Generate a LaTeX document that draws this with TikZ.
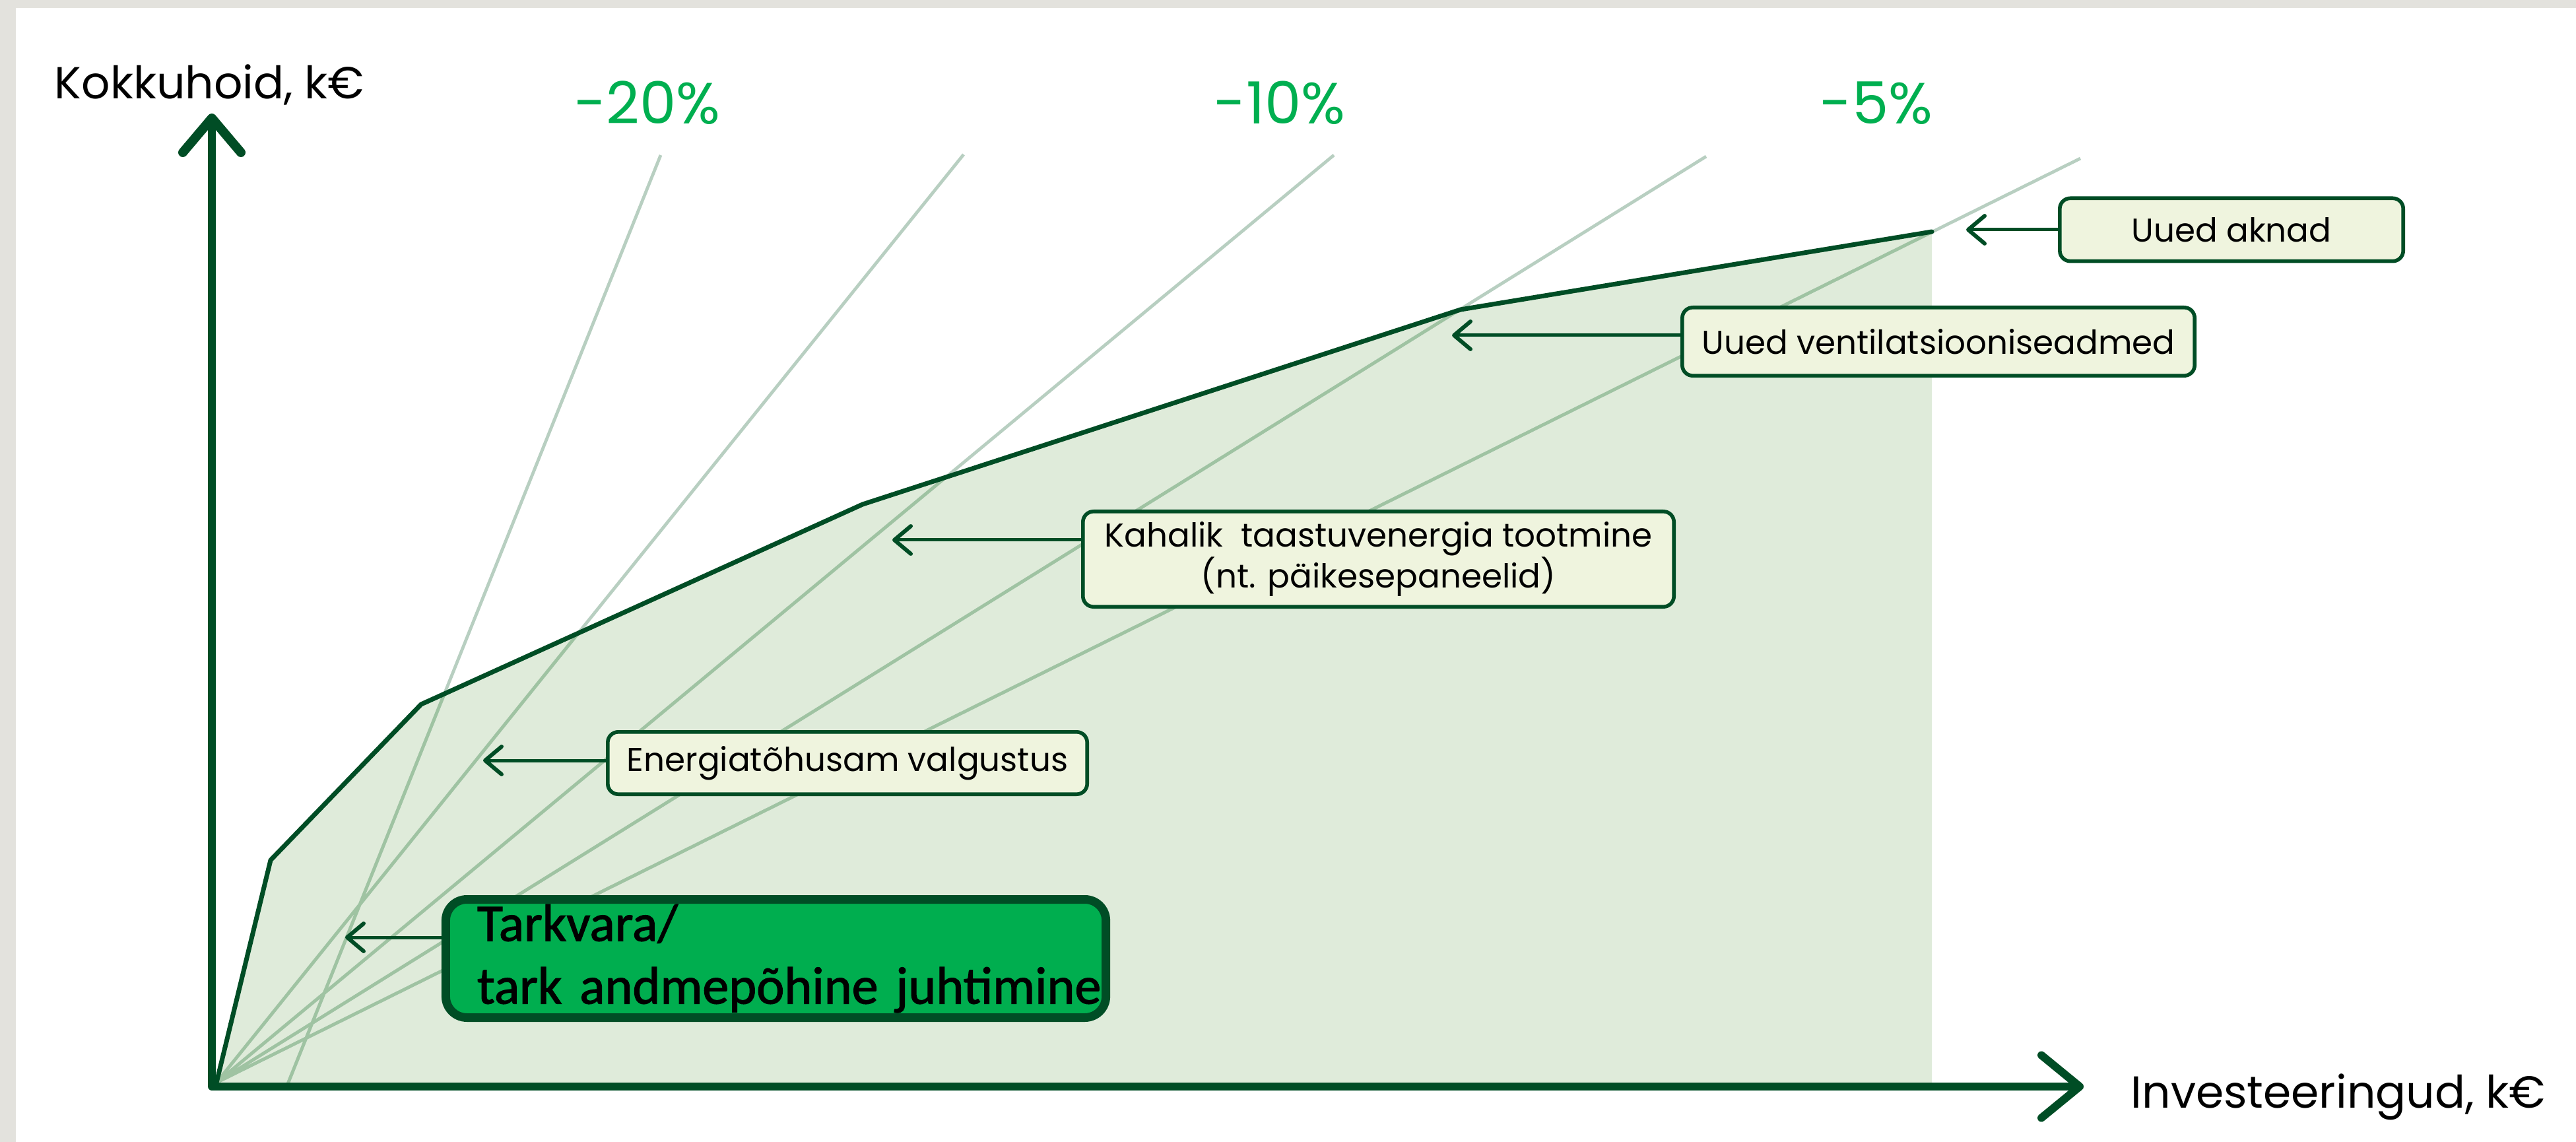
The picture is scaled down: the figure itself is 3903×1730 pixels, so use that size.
\documentclass[tikz,border=0pt]{standalone}
\usepackage{fontspec}
\setmainfont{Poppins}
\newfontfamily\carlito[FakeBold=1.5]{Carlito}
\usetikzlibrary{arrows.meta}
\definecolor{dg}{HTML}{004D25}
\definecolor{fillg}{HTML}{DFEBDA}
\definecolor{rayout}{HTML}{B8CFC1}
\definecolor{rayin}{HTML}{9FC3A2}
\definecolor{boxf}{HTML}{EFF4DE}
\definecolor{brightg}{HTML}{00AE4F}
\definecolor{pctg}{HTML}{00AF50}
\definecolor{paper}{HTML}{E3E2DD}
\begin{document}
\begin{tikzpicture}[x=0.25pt,y=-0.25pt,
  lbox/.style={draw=dg, line width=1.4pt, fill=boxf, rounded corners=4pt, inner sep=0pt,
    font=\fontsize{12.5}{15.5}\selectfont, align=center},
  callout/.style={draw=dg, line width=1.25pt, line cap=round,
    -{Straight Barb[length=6.25pt,width=10.5pt,line width=1.5pt,round]}},
  ray/.style={line width=1.2pt},
  pct/.style={text=pctg, font=\fontsize{22}{26}\selectfont, anchor=base},
  axlabel/.style={font=\fontsize{17}{20}\selectfont, anchor=base west, inner sep=0pt},
]
% background
\fill[paper] (0,0) rectangle (3903,1730);
\fill[white] (24,12) rectangle (3903,1730);
\useasboundingbox (0,0) rectangle (3903,1730);

% coordinates
\coordinate (O) at (328,1640);
\coordinate (O2) at (436,1642);
\coordinate (e1) at (1001,235);
\coordinate (e2) at (1460,234);
\coordinate (e3) at (2021,235);
\coordinate (e4) at (2585,237);
\coordinate (e5) at (3152,240);
\coordinate (v1) at (410,1303);
\coordinate (v2) at (638,1067);
\coordinate (v3) at (1307,764);
\coordinate (v4) at (2213,469);
\coordinate (v5) at (2927,351);
\coordinate (v6) at (2927,1640);

% fill area
\fill[fillg] (O) -- (v1) -- (v2) -- (v3) -- (v4) -- (v5) -- (v6) -- cycle;
% rays
\draw[ray, rayout] (O2) -- (e1) (O) -- (e2) (O) -- (e3) (O) -- (e4) (O) -- (e5);
\begin{scope}
  \clip (O) -- (v1) -- (v2) -- (v3) -- (v4) -- (v5) -- (v6) -- cycle;
  \draw[ray, rayin] (O2) -- (e1) (O) -- (e2) (O) -- (e3) (O) -- (e4) (O) -- (e5);
\end{scope}
% curve
\draw[dg, line width=1.75pt, line join=round, line cap=round]
  (O) -- (v1) -- (v2) -- (v3) -- (v4) -- (v5);

% axes
\coordinate (ytop) at (321,172);
\coordinate (corner) at (321,1646);
\coordinate (xend) at (3157,1646);
\draw[dg, line width=3pt, line join=round,
  {Straight Barb[length=13pt,width=22pt,line width=3.5pt,round]}-{Straight Barb[length=14.5pt,width=23.75pt,line width=3pt,round]}]
  (ytop) -- (corner) -- (xend);

% percent labels
\node[pct] (p20) at (981,188) {-20\%};
\node[pct] (p10) at (1939,188) {-10\%};
\node[pct] (p5) at (2843,188) {-5\%};

% axis labels
\node[axlabel] (ylab) at (82,150) {Kokkuhoid, k€};
\node[axlabel] (xlab) at (3228,1678) {Investeeringud, k€};

% boxes
\node[lbox, minimum width=130.1pt, minimum height=23.85pt] (aknad) at (3381,348) {Uued aknad};
\node[lbox, minimum width=194.1pt, minimum height=25.85pt] (vent) at (2937,517.5) {Uued ventilatsiooniseadmed};
\node[lbox, minimum width=223.85pt, minimum height=36.1pt] (kahalik) at (2088.5,847) {Kahalik\ \ taastuvenergia tootmine\\(nt. päikesepaneelid)};
\node[lbox, minimum width=181.6pt, minimum height=23.6pt] (energia) at (1284,1156) {Energiatõhusam valgustus};
\node[draw=dg, line width=3.25pt, fill=brightg, rounded corners=8pt, inner xsep=11.9pt, inner ysep=0pt,
  text width=226.25pt, align=left, minimum height=44.75pt,
  font=\carlito\fontsize{20}{23.75}\selectfont] (tarkvara) at (1175.5,1452)
  {Tarkvara/\\\mbox{tark andmepõhine juhtimine}};

% callout arrows
\coordinate (tA) at (2979,348);
\coordinate (tV) at (2200,508);
\coordinate (tK) at (1352,818);
\coordinate (tE) at (732,1152);
\coordinate (tT) at (523,1420);
\draw[callout] (aknad.west |- tA) -- (tA);
\draw[callout] (vent.west |- tV) -- (tV);
\draw[callout] (kahalik.west |- tK) -- (tK);
\draw[callout] (energia.west |- tE) -- (tE);
\draw[callout] (tarkvara.west |- tT) -- (tT);
\end{tikzpicture}
\end{document}
